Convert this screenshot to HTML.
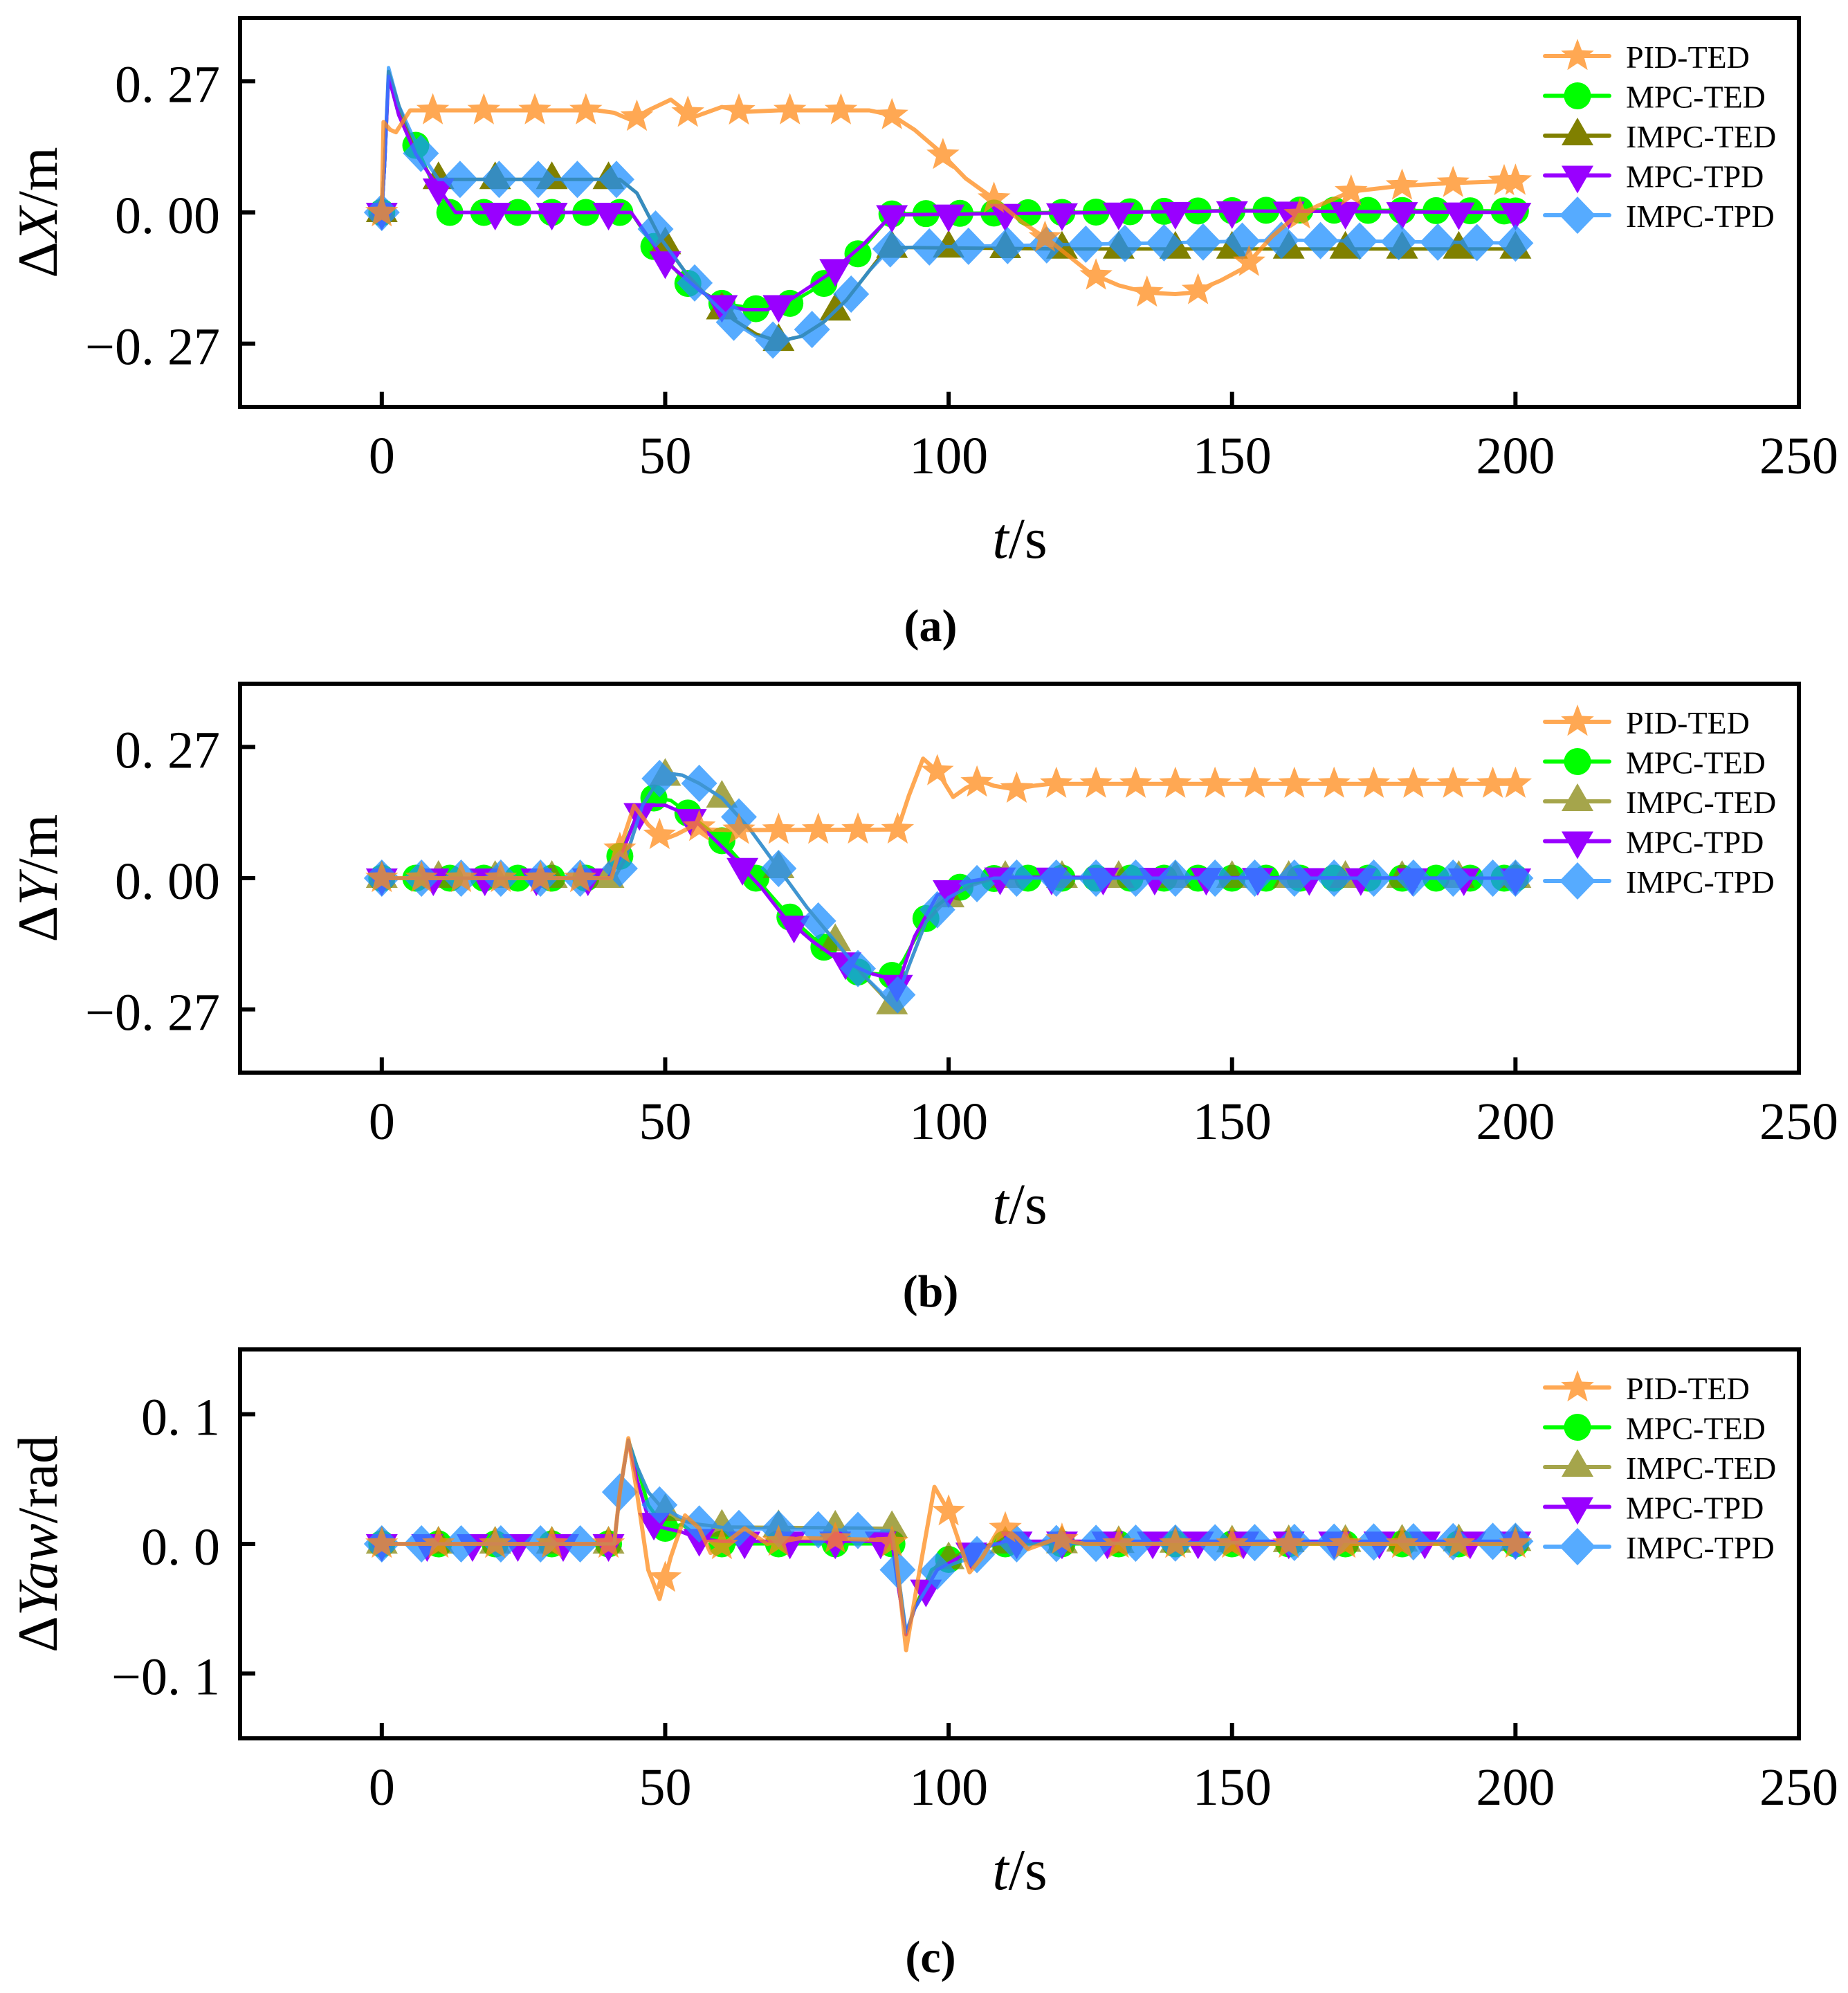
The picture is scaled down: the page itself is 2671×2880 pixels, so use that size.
<!DOCTYPE html>
<html><head><meta charset="utf-8"><style>
html,body{margin:0;padding:0;background:#fff;}
svg{display:block;}
text{font-family:"Liberation Serif",serif;fill:#000;}
</style></head><body>
<svg id="fig" width="2671" height="2880" viewBox="0 0 2671 2880" xmlns="http://www.w3.org/2000/svg"></svg>
<script>
// ---------- data ----------
const seriesNames = ["PID-TED","MPC-TED","IMPC-TED","MPC-TPD","IMPC-TPD"];
const xTickLabels = ["0","50","100","150","200","250"];
const xTickValues = [0,50,100,150,200,250];
const yTickValuesAB = [0.27,0,-0.27];
const yTickLabelsAB = ["0. 27","0. 00","\u22120. 27"];
const yTickValuesC = [0.1,0,-0.1];
const yTickLabelsC = ["0. 1","0. 0","\u22120. 1"];

// Panel (a)
const aPID_t = [0,0.3,1.5,2.5,5,38,41,44,47,51,55,60,64,70,86,90,94,98,103,108,113,118,125,130,135,140,143,148,152,157,161,165,171,180,188,200];
const aPID_v = [0,0.186,0.17,0.165,0.21,0.21,0.205,0.19,0.21,0.232,0.196,0.217,0.207,0.21,0.21,0.2,0.17,0.13,0.07,0.028,-0.02,-0.06,-0.125,-0.15,-0.165,-0.168,-0.165,-0.14,-0.115,-0.05,-0.01,0.013,0.043,0.055,0.06,0.065];
const aMT_t = [0,0.5,1.2,3,6,9,12,44,48,54,60,66,72,78,84,90,120,160,200];
const aMT_v = [0,0.1,0.28,0.2,0.138,0.06,0,0,-0.07,-0.146,-0.187,-0.198,-0.187,-0.146,-0.085,-0.003,0,0.005,0.003];
const aIT_t = [0,0.5,1.2,3,6,9,42,45,49,54,58,62,66,70,74,78,82,86,89,91,120,200];
const aIT_v = [0,0.1,0.29,0.22,0.12,0.068,0.068,0.04,-0.05,-0.13,-0.18,-0.22,-0.25,-0.265,-0.255,-0.225,-0.18,-0.12,-0.075,-0.072,-0.075,-0.075];
const aMP_t = [0,0.5,1.2,3,6,10,13,44,50,56,60,64,68,72,79,85,90,150,200];
const aMP_v = [0,0.1,0.28,0.2,0.12,0.05,0,0,-0.1,-0.16,-0.19,-0.2,-0.2,-0.18,-0.126,-0.065,-0.005,0.003,0.0];
const aIP_t = [0,0.5,1.2,3,6.7,10,42,45,49,54,58,62,66,70,74,78,82,86,89.6,92,140,160,200];
const aIP_v = [0,0.1,0.298,0.22,0.125,0.068,0.068,0.04,-0.05,-0.13,-0.18,-0.225,-0.255,-0.265,-0.255,-0.225,-0.18,-0.12,-0.075,-0.072,-0.062,-0.057,-0.063];

// Panel (b)
const bPID_t = [0,40.5,42,44.5,47,49.8,52,55,58,61,91,93,95.5,98,100.8,103,105.6,108,111.5,115,118,200];
const bPID_v = [0,0,0.06,0.149,0.11,0.08,0.09,0.108,0.1,0.099,0.1,0.17,0.246,0.22,0.167,0.185,0.2,0.19,0.183,0.19,0.194,0.194];
const bMT_t = [0,40,42,45,48,51,54,60,66,72,78,84,90,92,96.6,102.5,108.3,200];
const bMT_v = [0,0,0.045,0.13,0.165,0.16,0.134,0.077,0,-0.08,-0.142,-0.193,-0.2,-0.17,-0.07,-0.014,0,0];
const bIT_t = [0,41,43,46,49,51,53,56,60,65,70,75,80,85,89,90.5,93,96,100,104,108,200];
const bIT_v = [0,0,0.04,0.15,0.205,0.215,0.212,0.195,0.165,0.1,0.02,-0.06,-0.13,-0.2,-0.25,-0.265,-0.18,-0.09,-0.04,-0.015,0,0];
const bMP_t = [0,40,42,45,47,50,53,56,62,67,71,76,80,86,90,91,94,98,103,108,200];
const bMP_v = [0,0,0.04,0.13,0.15,0.15,0.135,0.11,0.042,-0.02,-0.08,-0.13,-0.163,-0.195,-0.208,-0.22,-0.12,-0.035,-0.008,0.002,0];
const bIP_t = [0,41,43,46,49,51,53,56,60,65,70,75,80,85,89,90.5,93,96,100,104,108,200];
const bIP_v = [0,0,0.04,0.15,0.205,0.215,0.212,0.195,0.165,0.1,0.02,-0.06,-0.13,-0.2,-0.245,-0.255,-0.18,-0.09,-0.04,-0.015,0,0];

// Panel (c)
const cPID_t = [0,41,42,43.5,45,47,49,51,53.5,56,58,61,64,68,74,89,90.5,92.5,94.5,97.5,100,103.7,106,109.3,112,114,119,124,200];
const cPID_v = [0,0,0.04,0.0815,0.04,-0.02,-0.0425,-0.01,0.022,0.012,-0.007,0.002,0.012,0,0.0045,0.003,0,-0.082,-0.03,0.044,0.025,-0.022,-0.01,0.0144,0.005,-0.004,0.004,0,0];
const cMT_t = [0,41,42,43.5,45,47,50,53,56,60,90,91,92.5,94,97,100,104,108,200];
const cMT_v = [0,0,0.04,0.08,0.06,0.03,0.012,0.015,0.005,0,0,-0.03,-0.07,-0.05,-0.02,-0.012,-0.004,0,0];
const cIT_t = [0,41,42,43.5,45,47,50,53,56,60,90,91,92.5,94,97,100,104,108,200];
const cIT_v = [0,0,0.04,0.08,0.06,0.04,0.025,0.018,0.015,0.013,0.012,-0.02,-0.07,-0.05,-0.022,-0.012,-0.004,0,0.002];
const cMP_t = [0,41,42,43.5,45,47,49,53,56,60,90,91,92.5,94,98,102,106,110,200];
const cMP_v = [0,0,0.04,0.08,0.05,0.02,0.013,0.009,0.004,0.002,0.002,-0.03,-0.07,-0.05,-0.02,-0.01,-0.003,0.002,0.002];
const cIP_t = [0,41,42,43.5,45,47,49,52,55,61,90,91,92.5,94,98,101,104,108,200];
const cIP_v = [0,0,0.04,0.08,0.06,0.04,0.03,0.022,0.016,0.012,0.01,-0.02,-0.068,-0.05,-0.021,-0.015,-0.011,0,0.002];

// marker spacing (seconds) per series
const aMarkStep = [9,6,10,10,6.9];
const bMarkStep = [7,6,10,9.09,7];
const cMarkStep = [10,10,10,8,7];

// ---------- drawing ----------
const NS = "http://www.w3.org/2000/svg";
const svg = document.getElementById("fig");
function mk(tag, attrs, parent){
  const e = document.createElementNS(NS, tag);
  for (const k in attrs) e.setAttribute(k, attrs[k]);
  (parent||svg).appendChild(e);
  return e;
}
const X0 = 347, X1 = 2600, XMIN = -25, XMAX = 250;
function xScale(t){ return X0 + (t - XMIN) / (XMAX - XMIN) * (X1 - X0); }
function interp(ts, vs, t){
  if (t <= ts[0]) return vs[0];
  for (let i = 1; i < ts.length; i++){
    if (t <= ts[i]) { const f = (t - ts[i-1]) / (ts[i] - ts[i-1]); return vs[i-1] + f * (vs[i] - vs[i-1]); }
  }
  return vs[vs.length-1];
}
const colors = ["#ff8c1a","#00ff00","#808000","#9900ff","#1e90ff"];
const shapes = ["star","circle","tri-up","tri-down","diamond"];

function markerPath(shape, cx, cy){
  if (shape === "star"){
    let d = ""; const R = 25, r = 10.5;
    for (let i = 0; i < 10; i++){
      const a = -Math.PI/2 + i * Math.PI/5, rr = i % 2 ? r : R;
      d += (i ? "L" : "M") + (cx + rr*Math.cos(a)).toFixed(1) + "," + (cy + rr*Math.sin(a)).toFixed(1);
    }
    return d + "Z";
  }
  if (shape === "circle"){ const r = 19.5; return `M${cx-r},${cy}a${r},${r} 0 1,0 ${2*r},0a${r},${r} 0 1,0 ${-2*r},0Z`; }
  if (shape === "tri-up") return `M${cx},${cy-26}L${cx+23},${cy+14}L${cx-23},${cy+14}Z`;
  if (shape === "tri-down") return `M${cx},${cy+26}L${cx+23},${cy-14}L${cx-23},${cy-14}Z`;
  return `M${cx},${cy-27}L${cx+26},${cy}L${cx},${cy+27}L${cx-26},${cy}Z`;
}

function drawPanel(cfg){
  const top = cfg.top, bot = cfg.top + 562;
  const yScale = v => (top + bot)/2 - v / cfg.ylim * (bot - top)/2;
  const g = mk("g", {});
  
  
  const clipId = "clip-" + cfg.id;
  const cp = mk("clipPath", {id: clipId}, g);
  mk("rect", {x: X0, y: top, width: X1 - X0, height: bot - top}, cp);
  const plot = mk("g", {"clip-path": `url(#${clipId})`}, g);
  
  
  const order = [1,2,3,4,0];
  for (const si of order){
    const ts = cfg.t[si], vs = cfg.v[si];
    const sg = mk("g", {opacity: cfg.alpha[si]}, plot);
    
    
    let d = "";
    ts.forEach((t, i) => { d += (i ? "L" : "M") + xScale(t).toFixed(1) + "," + yScale(vs[i]).toFixed(1); });
    const line = mk("path", {d: d, fill: "none", stroke: colors[si], "stroke-width": si === 0 ? 6 : 5, "stroke-linejoin": "round"}, sg);
    
    
    const step = cfg.step[si];
    const mt = [];
    for (let t = 0; t <= 200.001; t += step) mt.push(t);
    if (200 - mt[mt.length-1] > 1) mt.push(200);
    for (const t of mt){
      const m = mk("path", {d: markerPath(shapes[si], xScale(t), yScale(interp(ts, vs, t))), fill: colors[si]}, sg);
      
      
    }
  }
  const frame = mk("rect", {x: X0, y: top, width: X1 - X0, height: bot - top, fill: "none", stroke: "#000", "stroke-width": 6}, g);
  
  
  xTickValues.forEach((v, i) => {
    const x = xScale(v);
    const tk = mk("line", {x1: x, x2: x, y1: bot, y2: bot - 22, stroke: "#000", "stroke-width": 6}, g);
    
    
    const tl = mk("text", {x: x, y: bot + 96, "font-size": 76, "text-anchor": "middle"}, g);
    tl.textContent = xTickLabels[i];
    
    
  });
  cfg.yticks.forEach((v, i) => {
    const y = yScale(v);
    const tk = mk("line", {x1: X0, x2: X0 + 22, y1: y, y2: y, stroke: "#000", "stroke-width": 6}, g);
    
    
    const tl = mk("text", {x: 318, y: y + 30, "font-size": 76, "text-anchor": "end"}, g);
    tl.textContent = cfg.ylabels[i];
    
    
  });
  const yt = mk("text", {x: 0, y: 0, "font-size": 82, "text-anchor": "middle", transform: `translate(82,${(top+bot)/2}) rotate(-90)`}, g);
  yt.innerHTML = cfg.ytitle;
  
  
  const xt = mk("text", {x: 1474, y: bot + 218, "font-size": 84, "text-anchor": "middle"}, g);
  xt.innerHTML = '<tspan font-style="italic">t</tspan>/s';
  
  
  const cap = mk("text", {x: 1345, y: bot + 338, "font-size": 66, "font-weight": "bold", "text-anchor": "middle"}, g);
  cap.textContent = '(' + cfg.cap + ')';
  
  
  const lg = mk("g", {}, g);
  
  
  seriesNames.forEach((nm, si) => {
    const y = top + 55 + si * 57.5;
    const e = mk("g", {}, lg);
    
    
    const eg = mk("g", {opacity: cfg.alpha[si]}, e);
    mk("line", {x1: 2233, x2: 2326, y1: y, y2: y, stroke: colors[si], "stroke-width": 6, "stroke-linecap": "round"}, eg);
    mk("path", {d: markerPath(shapes[si], 2280, y), fill: colors[si]}, eg);
    const tx = mk("text", {x: 2350, y: y + 17, "font-size": 46}, e);
    tx.textContent = nm;
  });
}

drawPanel({id:"panel-a", top:26, ylim:0.4, cap:"a",
  t:[aPID_t,aMT_t,aIT_t,aMP_t,aIP_t], v:[aPID_v,aMT_v,aIT_v,aMP_v,aIP_v],
  step:aMarkStep, alpha:[0.75,1,1,1,0.75],
  yticks:yTickValuesAB, ylabels:yTickLabelsAB,
  ytitle:'\u0394<tspan font-style="italic">X</tspan>/m'});
drawPanel({id:"panel-b", top:988, ylim:0.4, cap:"b",
  t:[bPID_t,bMT_t,bIT_t,bMP_t,bIP_t], v:[bPID_v,bMT_v,bIT_v,bMP_v,bIP_v],
  step:bMarkStep, alpha:[0.75,1,0.7,1,0.75],
  yticks:yTickValuesAB, ylabels:yTickLabelsAB,
  ytitle:'\u0394<tspan font-style="italic">Y</tspan>/m'});
drawPanel({id:"panel-c", top:1950, ylim:0.15, cap:"c",
  t:[cPID_t,cMT_t,cIT_t,cMP_t,cIP_t], v:[cPID_v,cMT_v,cIT_v,cMP_v,cIP_v],
  step:cMarkStep, alpha:[0.75,1,0.7,1,0.75],
  yticks:yTickValuesC, ylabels:yTickLabelsC,
  ytitle:'\u0394<tspan font-style="italic">Yaw</tspan>/rad'});
</script>
</body></html>
